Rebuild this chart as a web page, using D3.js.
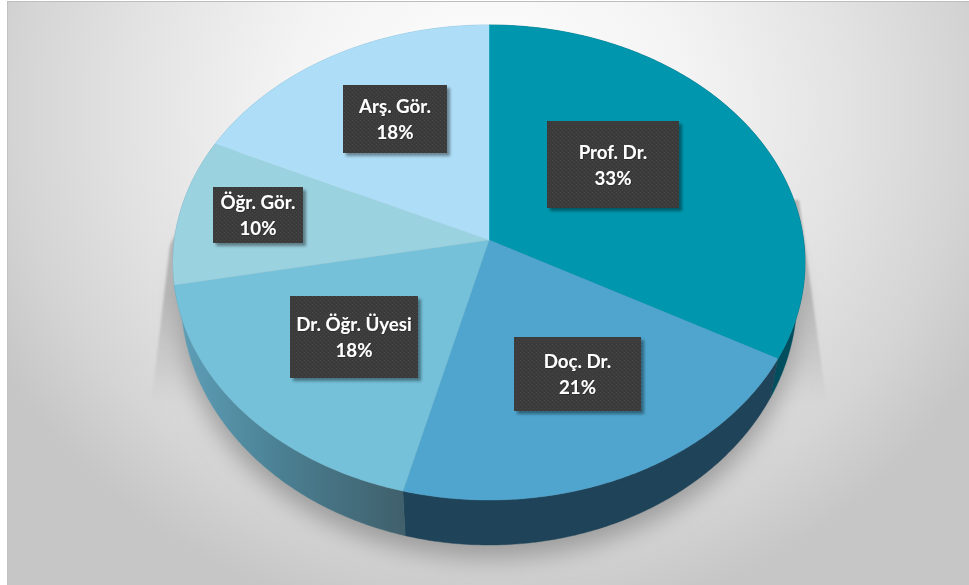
<!DOCTYPE html>
<html><head><meta charset="utf-8">
<script src="https://cdn.jsdelivr.net/npm/d3@7"></script>
<style>html,body{margin:0;padding:0;background:#fff;overflow:hidden}svg{display:block}</style>
</head><body><svg id="c" width="969" height="585"></svg>
<script>
const categories = ["Prof. Dr.", "Doç. Dr.", "Dr. Öğr. Üyesi", "Öğr. Gör.", "Arş. Gör."];
const shares = [33, 21, 18, 10, 18];
const faceColors = ["#0097ae", "#4fa5ce", "#74c1d9", "#9bd2e0", "#aeddf7"];
const sideColors = ["#004e5e", "#1f4459", "url(#sideGrad)", "#5d9db3", "#6fa8c0"];

// label-box layout [left, top, width, height]
const labelLayout = [[547,121,132,87],[514,337,127,74],[290,296,128,82],[213,187,90,56],[343,85,104,68]];

const W = 969, H = 585, cx = 489, cy = 240;
const svg = d3.select("#c");
const defs = svg.append("defs");

// perspective projection of the pie's circle
const persp = -0.0947, kx = 314.6, ky = 235.4;
function project(theta, r, dy, sy) {
  const u = Math.sin(theta) * r, v = -Math.cos(theta) * r, d = 1 + persp * v;
  return [cx + kx * u / d, cy + dy + sy * ky * v / d];
}
const line = d3.line();
function arcPts(a0, a1, r, dy, sy) {
  const n = Math.max(2, Math.ceil((a1 - a0) / 0.01));
  return d3.range(n + 1).map(i => project(a0 + (a1 - a0) * i / n, r, dy, sy));
}
const pie = d3.pie().sort(null).value(d => d)(shares);
const bottomR = 0.975, bottomDy = 33.7, bottomSy = 1.073;

// background
const bg = defs.append("radialGradient").attr("id", "bg").attr("gradientUnits", "userSpaceOnUse")
  .attr("cx", 0).attr("cy", 0).attr("r", 1)
  .attr("gradientTransform", "translate(489,110) scale(560,520)");
[[0,"#ffffff"],[0.35,"#f4f4f4"],[0.65,"#e2e2e2"],[0.85,"#d4d4d4"],[1,"#c6c6c6"]]
  .forEach(s => bg.append("stop").attr("offset", s[0]).attr("stop-color", s[1]));
svg.append("rect").attr("width", W).attr("height", H).attr("fill", "#fff");
svg.append("rect").attr("x", 7).attr("y", 1).attr("width", W - 7).attr("height", H - 1).attr("fill", "url(#bg)");
svg.append("rect").attr("x", 7).attr("y", 1).attr("width", 1).attr("height", H - 1).attr("fill", "#c2c2c2");
svg.append("rect").attr("x", 7).attr("y", 1).attr("width", W - 7).attr("height", 1).attr("fill", "#bdbdbd");

// shadows
const wedgeGrad = defs.append("linearGradient").attr("id", "wedge").attr("gradientUnits", "userSpaceOnUse").attr("x1", 0).attr("y1", 200).attr("x2", 0).attr("y2", 405);
[[0,0.9],[0.45,0.85],[0.75,0.4],[1,0]].forEach(s => wedgeGrad.append("stop").attr("offset", s[0]).attr("stop-color", "#b0b0b0").attr("stop-opacity", s[1]));
defs.append("filter").attr("id", "blur1").append("feGaussianBlur").attr("stdDeviation", 1);
const bf = defs.append("filter").attr("id", "blur2").attr("x", "-20%").attr("y", "-20%").attr("width", "140%").attr("height", "140%");
bf.append("feGaussianBlur").attr("stdDeviation", 12);
svg.append("path").attr("fill", "url(#wedge)").attr("filter", "url(#blur1)")
  .attr("d", line([[197,190],[170,245],[151,405],[827,405],[799,200]]) + "Z");
svg.append("path").attr("fill", "#9c9c9c").attr("filter", "url(#blur2)")
  .attr("d", line(arcPts(Math.PI * 0.42, Math.PI * 1.58, bottomR, bottomDy + 14, bottomSy)) + "Z");

// side wall
const sg = defs.append("linearGradient").attr("id", "sideGrad").attr("gradientUnits", "userSpaceOnUse")
  .attr("x1", 185).attr("y1", 0).attr("x2", 403).attr("y2", 0);
[[0,"#5c9db5"],[0.45,"#4a7f92"],[1,"#40606c"]].forEach(s => sg.append("stop").attr("offset", s[0]).attr("stop-color", s[1]));
svg.append("g").selectAll("path").data(pie).join("path")
  .attr("fill", (d, i) => sideColors[i]).attr("stroke", (d, i) => sideColors[i]).attr("stroke-width", 0.4)
  .attr("d", d => line(arcPts(d.startAngle, d.endAngle, 1, 0, 1).concat(arcPts(d.startAngle, d.endAngle, bottomR, bottomDy, bottomSy).reverse())) + "Z");

// top face
svg.append("g").selectAll("path").data(pie).join("path")
  .attr("fill", (d, i) => faceColors[i]).attr("stroke", (d, i) => faceColors[i]).attr("stroke-width", 0.4)
  .attr("d", d => line([[cx, cy]].concat(arcPts(d.startAngle, d.endAngle, 1, 0, 1))) + "Z");

// labels
const pat = defs.append("pattern").attr("id", "dots").attr("patternUnits", "userSpaceOnUse").attr("width", 4).attr("height", 4);
pat.append("rect").attr("width", 4).attr("height", 4).attr("fill", "#3a3a3a");
pat.append("rect").attr("width", 1).attr("height", 1).attr("fill", "#474747");
pat.append("rect").attr("x", 2).attr("y", 2).attr("width", 1).attr("height", 1).attr("fill", "#474747");
const ds = defs.append("filter").attr("id", "boxShadow").attr("x", "-10%").attr("y", "-10%").attr("width", "125%").attr("height", "125%");
ds.append("feDropShadow").attr("dx", 3).attr("dy", 3).attr("stdDeviation", 1.8).attr("flood-color", "#000").attr("flood-opacity", 0.4);
const ts = defs.append("filter").attr("id", "textGlow").attr("x", "-5%").attr("y", "-5%").attr("width", "110%").attr("height", "110%");
ts.append("feDropShadow").attr("dx", 0.5).attr("dy", 0.5).attr("stdDeviation", 0.4).attr("flood-color", "#000").attr("flood-opacity", 0.5);

const lab = svg.append("g").selectAll("g").data(categories).join("g");
lab.append("rect")
  .attr("x", (d, i) => labelLayout[i][0]).attr("y", (d, i) => labelLayout[i][1])
  .attr("width", (d, i) => labelLayout[i][2]).attr("height", (d, i) => labelLayout[i][3])
  .attr("fill", "url(#dots)").attr("filter", "url(#boxShadow)");
const txt = lab.append("text").attr("text-anchor", "middle").attr("fill", "#fff").attr("filter", "url(#textGlow)")
  .attr("font-family", "Lato, sans-serif").attr("font-weight", 700).attr("font-size", 18.7);
const tx = (i) => labelLayout[i][0] + labelLayout[i][2] / 2, tyc = (i) => labelLayout[i][1] + labelLayout[i][3] / 2;
txt.append("tspan").attr("x", (d, i) => tx(i)).attr("y", (d, i) => tyc(i) - 6).text(d => d);
txt.append("tspan").attr("x", (d, i) => tx(i)).attr("y", (d, i) => tyc(i) + 20).text((d, i) => shares[i] + "%");
</script></body></html>
